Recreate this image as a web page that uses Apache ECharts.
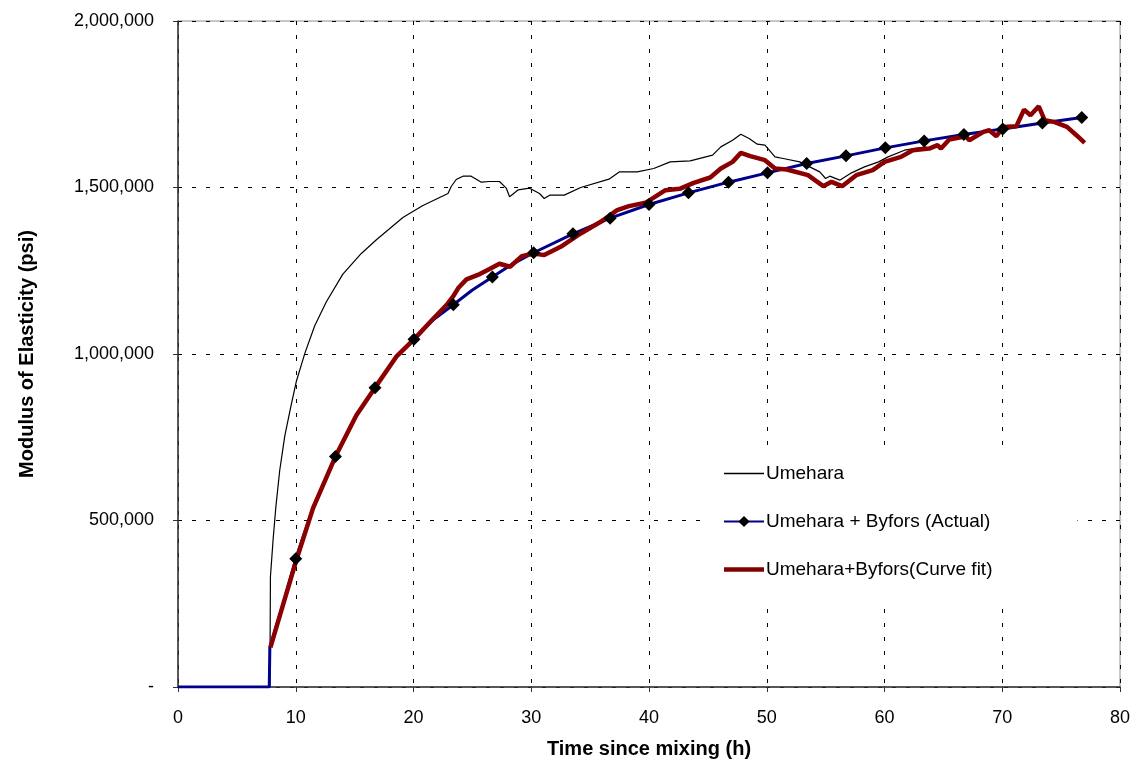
<!DOCTYPE html>
<html>
<head>
<meta charset="utf-8">
<script src="https://cdn.jsdelivr.net/npm/echarts@6/dist/echarts.min.js"></script>
<style>
  html, body { margin: 0; padding: 0; background: #fff; }
  #chart { width: 1135px; height: 767px; }
</style>
</head>
<body>
<div id="chart"></div>
<script>
// Umehara (thin black line)
const umeharaX = [0, 7.8, 7.85, 8.08, 8.3, 8.64, 9.07, 9.55, 10.06, 10.77, 11.61, 12.6, 14.0, 15.57, 16.85, 19.1, 20.8, 22.93, 23.2, 23.63, 24.2, 24.9, 25.76, 26.46, 27.3, 27.88, 28.16, 28.9, 29.86, 30.7, 31.1, 31.56, 32.8, 34.2, 36.6, 37.5, 39.0, 40.4, 41.8, 43.5, 45.4, 46.1, 47.1, 47.8, 48.5, 49.2, 49.85, 50.7, 51.4, 52.8, 54.5, 55.0, 55.35, 56.2, 57.2, 58.3, 59.5, 60.3, 61.7, 62.5, 63.5];
const umeharaY = [0, 0, 331000, 444000, 537000, 651000, 754000, 837000, 919000, 1002000, 1085000, 1157000, 1240000, 1302000, 1343000, 1410000, 1446000, 1482000, 1503000, 1524000, 1534000, 1534000, 1516000, 1518000, 1518000, 1498000, 1472000, 1493000, 1498000, 1482000, 1467000, 1477000, 1477000, 1500000, 1525000, 1547000, 1547000, 1557000, 1577000, 1580000, 1597000, 1622000, 1642000, 1660000, 1647000, 1630000, 1627000, 1592000, 1587000, 1577000, 1547000, 1527000, 1534000, 1522000, 1544000, 1562000, 1577000, 1592000, 1612000, 1617000, 1622000];

// Umehara + Byfors (Actual): diamond points and unmarked line points
const actualMarkX = [10.0, 13.37, 16.73, 20.04, 23.38, 26.7, 30.2, 33.54, 36.7, 40.0, 43.35, 46.75, 50.06, 53.39, 56.73, 60.07, 63.37, 66.74, 70.04, 73.41, 76.75];
const actualMarkY = [385000, 692000, 899000, 1044000, 1148000, 1231000, 1304000, 1361000, 1408000, 1449000, 1484000, 1516000, 1544000, 1572000, 1595000, 1619000, 1640000, 1659000, 1676000, 1694000, 1710000];
const actualLineX = [0, 7.75, 7.8, 8.93, 11.47, 15.15, 18.54, 21.65, 25.0, 28.4];
const actualLineY = [0, 0, 119000, 248000, 537000, 816000, 992000, 1102000, 1192000, 1270000];

// Umehara+Byfors (Curve fit)
const fitX = [7.85, 8.93, 10.06, 11.47, 13.37, 15.15, 16.73, 18.54, 20.04, 21.65, 22.8, 23.35, 23.8, 24.5, 25.63, 26.46, 27.3, 28.2, 29.2, 30.24, 31.1, 32.5, 34.2, 35.9, 37.3, 38.3, 39.7, 41.4, 42.6, 43.8, 45.2, 46.1, 47.1, 47.8, 48.6, 49.85, 50.7, 51.7, 53.5, 54.8, 55.5, 56.4, 57.6, 59.0, 60.0, 61.4, 62.4, 63.8, 64.5, 64.8, 65.5, 66.9, 67.2, 68.4, 68.9, 69.5, 70.1, 71.2, 71.85, 72.4, 73.1, 73.6, 74.4, 75.5, 76.3, 77.0];
const fitY = [119000, 248000, 382000, 537000, 692000, 816000, 899000, 992000, 1044000, 1105000, 1147000, 1172000, 1198000, 1224000, 1240000, 1255000, 1271000, 1262000, 1294000, 1302000, 1297000, 1322000, 1362000, 1397000, 1432000, 1444000, 1454000, 1492000, 1496000, 1514000, 1530000, 1557000, 1577000, 1604000, 1594000, 1582000, 1557000, 1554000, 1537000, 1504000, 1517000, 1504000, 1537000, 1552000, 1577000, 1592000, 1612000, 1617000, 1627000, 1617000, 1644000, 1654000, 1642000, 1667000, 1672000, 1654000, 1682000, 1684000, 1734000, 1717000, 1744000, 1702000, 1697000, 1682000, 1657000, 1634000];

const seriesNames = ['Umehara', 'Umehara + Byfors (Actual)', 'Umehara+Byfors(Curve fit)'];

const zip = (xs, ys) => xs.map((x, i) => [x, ys[i]]);
const actualLine = zip(actualLineX, actualLineY).concat(zip(actualMarkX, actualMarkY))
    .sort((a, b) => a[0] - b[0] || a[1] - b[1]);

const chart = echarts.init(document.getElementById('chart'));
const font = 'Liberation Sans, Arial, sans-serif';
const dash = [4, 10];

chart.setOption({
    animation: false,
    backgroundColor: '#fff',
    grid: {
        left: 178, right: 15, top: 21, bottom: 80,
        show: true, borderColor: '#8c8c8c', borderWidth: 1
    },
    legend: {
        orient: 'vertical',
        left: 705, top: 452,
        padding: [12, 85, 30, 18],
        backgroundColor: '#fff',
        itemWidth: 40, itemHeight: 14, itemGap: 29,
        data: [
            { name: seriesNames[0], icon: 'path://M0,0L40,0L40,1.3L0,1.3Z' },
            { name: seriesNames[1] },
            { name: seriesNames[2], icon: 'path://M0,0L40,0L40,4.5L0,4.5Z' }
        ],
        textStyle: { fontFamily: font, fontSize: 19, color: '#000', padding: [0, 0, 0, -3] }
    },
    xAxis: {
        type: 'value', min: 0, max: 80, interval: 10,
        name: 'Time since mixing (h)', nameLocation: 'middle', nameGap: 52,
        nameTextStyle: { fontFamily: font, fontSize: 20, fontWeight: 'bold', color: '#000' },
        axisLine: { lineStyle: { color: '#333', width: 1.5 } },
        axisTick: { length: 5, lineStyle: { color: '#333' } },
        axisLabel: { fontFamily: font, fontSize: 18, color: '#000', margin: 22 },
        splitLine: { show: true, lineStyle: { color: '#000', type: dash, width: 1 } }
    },
    yAxis: {
        type: 'value', min: 0, max: 2000000, interval: 500000,
        name: 'Modulus of Elasticity (psi)', nameLocation: 'middle', nameGap: 141,
        nameTextStyle: { fontFamily: font, fontSize: 20, fontWeight: 'bold', color: '#000' },
        axisLine: { show: true, lineStyle: { color: '#333', width: 1.5 } },
        axisTick: { show: true, length: 5, lineStyle: { color: '#333' } },
        axisLabel: {
            fontFamily: font, fontSize: 18, color: '#000', margin: 24,
            formatter: v => v === 0 ? '-' : v.toLocaleString('en-US')
        },
        splitLine: { show: true, lineStyle: { color: '#000', type: dash, width: 1 } }
    },
    series: [
        {
            name: seriesNames[0], type: 'line', data: zip(umeharaX, umeharaY),
            symbol: 'none', color: '#000',
            lineStyle: { color: '#000', width: 1.2 }, z: 2
        },
        {
            name: seriesNames[1], type: 'line', data: actualLine,
            symbol: 'diamond', symbolSize: 13, showSymbol: false,
            color: '#000',
            itemStyle: { color: '#000' },
            lineStyle: { color: '#00008b', width: 3 }, z: 3
        },
        {
            name: seriesNames[2], type: 'line', data: zip(fitX, fitY),
            symbol: 'none', color: '#800000',
            lineStyle: { color: '#8b0000', width: 4.5 }, z: 4
        },
        {
            // diamonds drawn above the curve fit line
            name: seriesNames[1], type: 'scatter', data: zip(actualMarkX, actualMarkY),
            symbol: 'diamond', symbolSize: 13,
            itemStyle: { color: '#000', opacity: 1 }, z: 5
        }
    ]
});
</script>
</body>
</html>
